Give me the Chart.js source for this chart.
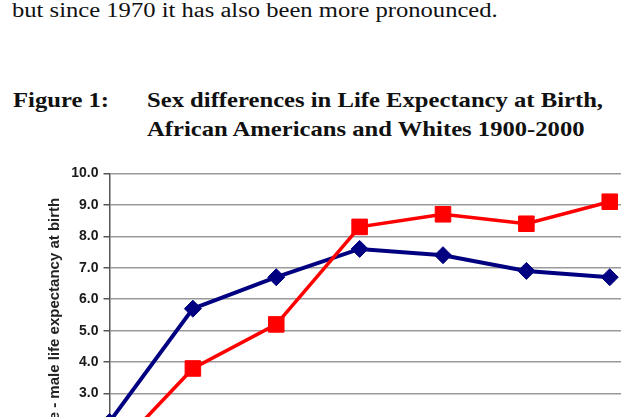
<!DOCTYPE html>
<html>
<head>
<meta charset="utf-8">
<script src="https://cdn.jsdelivr.net/npm/chart.js@4"></script>
<style>
  html, body { margin: 0; padding: 0; background: #fff; }
  body { width: 621px; height: 417px; overflow: hidden; position: relative; }
  .txt { position: absolute; white-space: nowrap; line-height: 1; color: #111; font-family: 'Liberation Serif', 'Times New Roman', serif; transform-origin: 0 0; }
  .para { left: 12px; top: 0px; font-size: 20px; transform: scaleX(1.23); }
  .fig { font-size: 22px; font-weight: bold; transform: scaleX(1.12); }
  #wrap { position: absolute; left: 0; top: 160px; width: 800px; height: 360px; }
</style>
</head>
<body>
<div class="txt para">but since 1970 it has also been more pronounced.</div>
<div class="txt fig" style="left:13px; top:89px;">Figure 1:</div>
<div class="txt fig" style="left:147px; top:89px;">Sex differences in Life Expectancy at Birth,</div>
<div class="txt fig" style="left:147px; top:118px;">African Americans and Whites 1900-2000</div>
<div id="wrap"><canvas id="chart"></canvas></div>
<script>
// data (the crop hides the last years, left empty)
const years = ['1900', '1950', '1960', '1970', '1980', '1985', '1990', '1995', '2000'];
const africanAmericans = [1.0, 3.8, 5.2, 8.3, 8.7, 8.4, 9.1, null, null];
const whites = [2.1, 5.7, 6.7, 7.6, 7.4, 6.9, 6.7, null, null];
const yMin = 0;
const yMax = 10;
const yStep = 1;

Chart.defaults.font.family = "'Liberation Sans', Arial, sans-serif";

const axisFont = { family: "'Liberation Sans', Arial, sans-serif", size: 14, weight: 'bold' };

new Chart(document.getElementById('chart'), {
    type: 'line',
    data: {
        labels: years,
        datasets: [
            {
                label: 'African Americans',
                data: africanAmericans,
                borderColor: '#ff0000',
                backgroundColor: '#ff0000',
                borderWidth: 3.5,
                pointStyle: 'rect',
                pointRadius: 11,
                pointBorderWidth: 1,
                tension: 0,
                spanGaps: false
            },
            {
                label: 'Whites',
                data: whites,
                borderColor: '#000080',
                backgroundColor: '#000080',
                borderWidth: 4,
                pointStyle: 'rectRot',
                pointRadius: 8.5,
                pointBorderWidth: 1,
                tension: 0,
                spanGaps: false
            }
        ]
    },
    options: {
        responsive: true,
        maintainAspectRatio: false,
        animation: false,
        layout: { padding: { top: 11, right: 23.5, left: 0, bottom: 0 } },
        plugins: {
            legend: { display: false },
            tooltip: { enabled: false }
        },
        scales: {
            x: {
                offset: false,
                grid: { display: false },
                border: { color: '#555', width: 1.5 },
                ticks: { font: axisFont, color: '#1a1a1a', maxRotation: 0, autoSkip: false },
                afterFit: (s) => { s.height = 32; }
            },
            y: {
                min: yMin,
                max: yMax,
                ticks: {
                    stepSize: yStep,
                    font: axisFont,
                    color: '#1a1a1a',
                    padding: 5,
                    callback: (v) => Number(v).toFixed(1)
                },
                grid: { color: '#9a9a9a', lineWidth: 1.5, tickLength: 6, tickColor: '#555', tickWidth: 1.5 },
                border: { color: '#555', width: 1.5 },
                title: {
                    display: true,
                    text: 'Female - male life expectancy at birth',
                    font: { family: "'Liberation Sans', Arial, sans-serif", size: 15, weight: 'bold' },
                    color: '#222',
                    padding: { top: 46, bottom: 0 }
                },
                afterFit: (s) => { s.width = 109.5; }
            }
        }
    }
});
</script>
</body>
</html>
